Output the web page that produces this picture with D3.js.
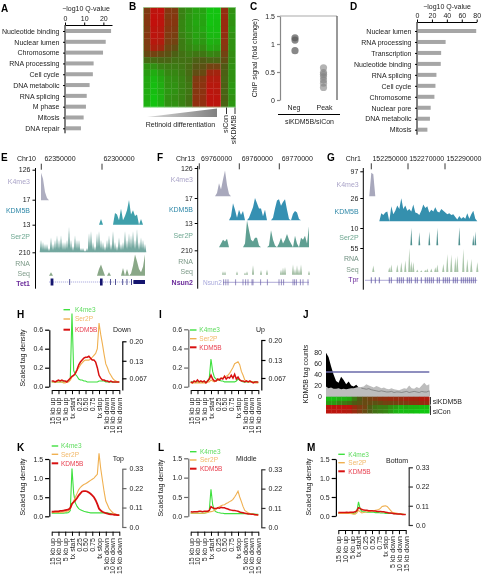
<!DOCTYPE html>
<html><head><meta charset="utf-8">
<script src="https://cdn.jsdelivr.net/npm/d3@7"></script>
<style>
html,body{margin:0;padding:0;background:#fff;overflow:hidden}
svg{display:block;font-family:"Liberation Sans",Arial,sans-serif;filter:blur(0.3px)}
text{font-size:7px;fill:#222}
.letter{font-size:10px;font-weight:bold;fill:#000}
</style></head><body>
<svg id="c" width="483" height="575"></svg>
<script>
// ---------- Panel A / D ----------
const catsA=["Nucleotide binding","Nuclear lumen","Chromosome","RNA processing","Cell cycle","DNA metabolic","RNA splicing","M phase","Mitosis","DNA repair"];
const valsA=[23.5,20.7,19.3,14.4,14,12.3,10.8,10.4,9.2,7.8];
const catsD=["Nuclear lumen","RNA processing","Transcription","Nucleotide binding","RNA splicing","Cell cycle","Chromosome","Nuclear pore","DNA metabolic","Mitosis"];
const valsD=[78,37,31,30.5,24.7,23.4,22,17,16,12.6];
// ---------- Panel B heat map (−1 green … +1 red) ----------
const heatB=[
[.4,.9,.95,.45,.4,-.35,-.5,-.65,-.65,-.95,-.95,.55,-.5],
[.45,.95,.9,.4,.45,-.35,-.55,-.65,-.7,-.95,-.95,.6,-.55],
[.45,.95,.9,.5,.45,-.4,-.55,-.7,-.65,-.95,-.9,.6,-.5],
[.4,.9,.85,.45,.4,-.4,-.55,-.65,-.7,-.9,-.9,.6,-.55],
[.45,.9,.85,.4,.35,-.35,-.5,-.65,-.6,-.85,-.85,.55,-.5],
[.4,.85,.8,.35,.3,-.3,-.45,-.6,-.55,-.8,-.75,.5,-.5],
[.35,.75,.65,.25,.15,-.3,-.4,-.5,-.45,-.7,-.65,.45,-.5],
[.2,.3,.2,.1,-.05,-.2,-.3,-.25,-.25,-.4,-.35,.3,-.45],
[-.15,-.15,-.1,-.1,-.2,-.2,-.2,-.05,0,-.1,-.1,.15,-.45],
[-.5,-.5,-.35,-.3,-.3,-.25,-.15,.05,.1,.3,.3,0,-.5],
[-.6,-.75,-.6,-.4,-.4,-.3,-.15,.15,.2,.65,.7,-.05,-.5],
[-.7,-.85,-.7,-.5,-.45,-.35,-.2,.4,.45,.8,.8,-.1,-.5],
[-.7,-.9,-.75,-.5,-.5,-.35,-.25,.45,.5,.85,.85,-.05,-.55],
[-.75,-.9,-.75,-.55,-.5,-.35,-.25,.45,.5,.9,.85,-.1,-.55],
[-.75,-.95,-.8,-.5,-.45,-.35,-.2,.5,.55,.9,.9,-.05,-.5],
[-.8,-.95,-.8,-.5,-.5,-.35,-.2,.55,.55,.9,.9,-.1,-.55]];
// ---------- Panel C ----------
const negC=[1.11,1.07,.88];
const peakC=[.575,.46,.415,.356,.3,.225,.49];
const labelsC=["Neg","Peak"];
// ---------- Panels E–G tracks (bins, in each track's own units) ----------
const eK4=[115,90,35,10,0];
const eKDM=[0,0,0,0,0,0,0,0,0,0,0,0,0,0,0,0,0,0,0,0,0,0,0,0,0,0,0,0,0,0,4,0,0,0,0,0,0,8,7,3,11,3,6,10,17,7,10,6,7,0,4,0,0];
const eSer=[6,5,4,4,2,7,4,6,8,6,8,5,5,6,12,6,3,8,6,6,2,2,1,2,9,10,5,3,9,10,6,5,3,6,8,4,10,5,3,7,4,5,10,6,9,8,10,6,11,5,7,6,4];
const eRNA=[0,0,0,0,0,30,0,0,0,0,0,0,0,0,0,0,0,0,0,0,0,0,0,0,0,0,0,0,0,60,100,50,0,0,30,0,0,0,0,0,0,70,0,60,0,20,90,190,130,60,30,80,190];
const eExons=[[4.8,1.4],[14.2,.3],[29.5,1.3],[34.5,.3],[37,.3],[40.7,.3],[42.8,.3],[45,.4],[46.2,5.8]];
const fK4=[0,0,0,0,0,0,0,0,0,15,58,30,75,115,50,10,0];
const fKDM=[0,0,0,0,0,0,0,0,0,0,0,0,0,0,0,0,3,13,8,2,8,4,7,0,0,2,6,10,17,13,9,9,3,8,0,0,0,2,9,15,16,11,14,16,8,1,0,5,7,6,1,0,0,0,0,0];
const fSer=[0,0,0,0,0,0,0,0,0,0,0,2,4,3,4.5,0,0,0,0,0,0,0,0,2,14,9,4,3,5,5,1,0,0,0,0,1,9,4,1,0,2,5,2,4,7,4,2,0,6,2,0,5,4,6,2,11];
const fRNA=[0,0,0,0,0,0,0,0,0,0,0,0,30,30,0,0,0,0,0,30,0,0,0,20,30,0,0,85,0,0,0,40,0,0,45,0,0,0,0,0,0,45,60,70,0,0,0,90,50,85,50,90,0,0,0,35];
const fExons=[12.3,13.4,14.5,18.3,22,23.3,24.5,26.5,27,30.8,34.2,40,41.2,42.3,47,47.8,48.7,50.7,52,54.5];
const gK4=[0,90,85,0];
const gKDM=[0,0,0,0,0,0,9,7,10,11,0,17,8,12,18,14,26,14,18,12,14,11,19,10,9,7,12,19,15,17,10,13,11,16,11,10,14,12,10,8,9,7,8,5,2,6,3,5,3,9,3,8,12,3,0];
const gSer=[0,0,0,0,0,0,0,0,0,0,0,0,0,0,0,0,0,0,0,0,0,10,0,0,0,7.5,0,0,0,0,8,0,0,0,10,0,0,0,0,0,0,0,0,0,0,10.5,0,0,0,0,0,0,6,8,0];
const gRNA=[0,0,15,0,0,0,0,0,0,0,11,17,0,0,17,0,23,0,27,0,55,25,23,0,6,0,4,0,5,8,0,8,0,11,17,0,0,19,0,42,0,40,0,34,38,0,0,53,0,30,0,30,0,0,23];
const gExons=[1,3,5,10,11,14,15,16,17,19,20,21,23,24,26,28,29,30,31,32,34,35,37,38,39,40,42,43,44,46,47,48,49,50,51,52,53];
const trackTicksE=["126","17","13","210"],trackTicksF=["126","17","13","210"],trackTicksG=["97","26","10","55"];
const coordE=["62350000","62300000"],coordF=["69760000","69760000","69770000"],coordG=["152250000","152270000","152290000"];
// ---------- Metagene profiles (41 samples between 15 kb up and 15 kb down) ----------
const xLabels=["15 kb up","10 kb up","5 kb up","tx start","0.25","0.50","0.75","tx stop","5 kb down","10 kb down","15 kb down"];
const hGreen=[.05,.05,.05,.05,.05,.05,.05,.05,.05,.06,.06,.08,.77,.17,.13,.11,.08,.07,.07,.06,.06,.05,.05,.05,.05,.05,.05,.05,.06,.06,.06,.06,.05,.05,.05,.05,.05,.05,.05,.05,.05];
const hOrange=[.05,.05,.05,.05,.05,.05,.05,.04,.04,.05,.05,.07,.10,.12,.14,.17,.20,.23,.25,.27,.28,.28,.28,.29,.31,.33,.35,.40,.67,.55,.45,.34,.24,.20,.15,.12,.09,.07,.06,.05,.05];
const hRed=[.06,.06,.05,.06,.07,.06,.07,.06,.06,.05,.07,.09,.11,.12,.14,.18,.23,.26,.28,.30,.31,.31,.32,.30,.28,.28,.26,.20,.12,.09,.07,.07,.06,.06,.05,.06,.05,.05,.05,.05,.05];
const iGreen=[.05,.05,.05,.05,.05,.05,.05,.05,.05,.05,.06,.09,.29,.16,.10,.08,.07,.07,.06,.06,.05,.05,.05,.05,.05,.05,.05,.06,.08,.07,.06,.05,.05,.05,.05,.05,.05,.05,.05,.05,.04];
const iOrange=[.04,.04,.04,.04,.04,.04,.04,.04,.04,.04,.05,.05,.07,.06,.05,.06,.07,.08,.09,.09,.10,.11,.12,.14,.17,.20,.24,.25,.26,.23,.16,.12,.07,.06,.05,.05,.05,.05,.04,.04,.04];
const iRed=[.05,.04,.06,.05,.07,.05,.06,.05,.06,.04,.06,.08,.12,.08,.06,.06,.08,.07,.09,.08,.11,.08,.10,.09,.12,.09,.13,.08,.10,.07,.06,.06,.05,.06,.05,.06,.05,.04,.05,.05,.05];
const kGreen=[.08,.08,.08,.08,.08,.08,.08,.08,.09,.09,.10,.15,1.25,.60,.35,.26,.20,.17,.15,.13,.12,.11,.10,.09,.09,.09,.09,.09,.09,.09,.09,.09,.09,.09,.08,.07,.05,.05,.04,.04,.03];
const kOrange=[.10,.10,.10,.10,.10,.10,.11,.11,.12,.13,.14,.20,.30,.40,.50,.60,.70,.76,.80,.83,.85,.88,.91,.94,.97,1.0,1.05,1.1,1.65,1.25,.95,.65,.40,.30,.20,.15,.10,.07,.05,.03,.02];
const kRed=[.12,.12,.13,.13,.13,.14,.14,.15,.16,.17,.18,.22,.33,.37,.42,.48,.55,.60,.65,.66,.66,.65,.62,.59,.55,.50,.42,.32,.20,.15,.12,.10,.08,.07,.06,.05,.05,.04,.04,.03,.03];
const lGreen=[.08,.08,.08,.08,.08,.08,.08,.08,.08,.09,.10,.15,.70,.30,.15,.12,.10,.09,.08,.08,.07,.07,.07,.07,.07,.07,.07,.07,.07,.07,.07,.07,.07,.07,.07,.07,.07,.06,.06,.05,.05];
const lOrange=[.08,.08,.08,.08,.08,.08,.08,.08,.08,.09,.10,.11,.12,.13,.15,.18,.22,.25,.27,.29,.30,.33,.35,.38,.40,.44,.50,.57,.65,.50,.38,.25,.15,.12,.09,.07,.06,.05,.04,.03,.03];
const lRed=[.12,.11,.12,.12,.12,.13,.13,.12,.13,.13,.13,.15,.25,.22,.20,.20,.22,.21,.23,.22,.22,.20,.19,.17,.16,.15,.15,.14,.13,.11,.10,.09,.08,.07,.06,.06,.05,.05,.04,.04,.03];
const mGreen=[.07,.07,.07,.07,.07,.07,.07,.07,.07,.07,.08,.12,.37,.18,.12,.11,.11,.10,.10,.10,.10,.10,.09,.09,.09,.08,.08,.08,.07,.07,.07,.07,.07,.06,.06,.06,.05,.05,.05,.04,.04];
const mOrange=[.07,.07,.07,.07,.07,.07,.07,.07,.06,.05,.05,.08,.15,.11,.08,.09,.10,.11,.12,.12,.13,.14,.15,.16,.17,.20,.25,.26,.27,.25,.20,.15,.10,.09,.08,.07,.06,.05,.05,.04,.04];
const mRed=[.09,.09,.09,.09,.09,.10,.09,.10,.10,.10,.11,.14,.22,.20,.17,.16,.15,.15,.14,.14,.14,.13,.13,.12,.12,.12,.11,.11,.10,.09,.08,.08,.07,.06,.06,.05,.05,.05,.04,.04,.04];
const seriesNames=["K4me3","Ser2P","KDM5B"];
// ---------- Panel J ----------
const jKD=[80,72,55,40,28,25,36,30,22,27,20,18,21,16,15,14,13,14,12,11,10,9,10,9,8,8,9,7,8,8,7,8,9,7,8,9,8,7,9,8,8,10];
const jCon=[18,15,16,14,14,15,13,14,13,14,15,15,16,17,17,18,22,20,18,16,19,17,15,16,14,13,15,13,12,11,13,15,14,20,15,14,17,15,20,25,20,22];
const jHeat=[
[-.9,-.9,-.8,-.8,-.7,-.3,0,.2,.3,.4,.5,.55,.6,.6,.6,.7,.7,.7,.8,.8],
[-.6,-.6,-.4,-.3,-.2,0,.1,.2,.2,.1,.2,.3,.3,.3,.4,.4,.5,.5,.6,.6],
[.9,.9,.9,.9,.9,.6,.4,.3,0,-.2,-.3,-.3,-.5,-.6,-.8,-.7,-.8,-.8,-.9,-.9],
[.9,.9,.9,.85,.8,.6,.4,.2,0,-.2,-.3,-.4,-.6,-.8,-.9,-.9,-.9,-.95,-1,-1]];

// ---------- drawing ----------
const svg=d3.select("#c");
const heatColor=d3.scaleLinear([-1,0,1],["#10c810","#4f5a14","#c80c0c"]);
const line=(x1,y1,x2,y2,col="#000",w=1)=>svg.append("line").attr("x1",x1).attr("y1",y1).attr("x2",x2).attr("y2",y2).attr("stroke",col).attr("stroke-width",w);
const label=(t,x,y,o={})=>{const s=svg.append("text").text(t).attr("x",x).attr("y",y).attr("dy","0.35em").attr("text-anchor",o.a||"start");
  if(o.col)s.style("fill",o.col); if(o.w)s.style("font-weight",o.w); if(o.size)s.style("font-size",o.size+"px");
  if(o.rot)s.attr("transform",`rotate(${o.rot} ${x} ${y})`); return s;};
const letter=(t,x,y)=>svg.append("text").attr("class","letter").text(t).attr("x",x).attr("y",y).attr("dy","0.35em");
const styleAxis=(g,col="#000",w=1)=>{g.selectAll("path,line").attr("stroke",col).attr("stroke-width",w);g.selectAll("text").style("font-size","7px").style("fill","#222").attr("font-family",null);g.attr("font-family",null).attr("font-size",null);};

function barPanel(cats,vals,dom,ticks,x0,x1,yAxis,y0,y1,titleX,titleY){
  const x=d3.scaleLinear(dom,[x0,x1]);
  const y=d3.scalePoint(cats,[y0,y1]);
  svg.append("g").selectAll("rect").data(vals).join("rect")
    .attr("x",x(0)+1).attr("width",d=>x(d)-x(0)).attr("y",(d,i)=>y(cats[i])-2).attr("height",4).attr("fill","#a6a6a6");
  svg.append("g").attr("transform",`translate(0,${yAxis})`).call(d3.axisTop(x).tickValues(ticks).tickSize(2.5).tickPadding(1.5).tickSizeOuter(0)).call(styleAxis);
  const ya=d3.scalePoint(cats,[y0,y1]);
  svg.append("g").attr("transform",`translate(${x0},0)`).call(d3.axisLeft(ya).tickSize(2).tickPadding(3.5).tickSizeOuter(0)).call(g=>{styleAxis(g);g.select(".domain").attr("d",`M0,${yAxis}V${y1+5}`);});
  label("\u2212log10 Q-value",titleX,titleY,{a:"middle"});
}
barPanel(catsA,valsA,[0,24.5],[0,10,20],65,112,25,31,128.3,86,8.5);
barPanel(catsD,valsD,[0,80],[0,20,40,60,80],417,476.7,22,31,129.7,447,6.5);
letter("A",1,8);letter("B",129,6);letter("C",250,6);letter("D",350,6);

// B
(function(){
  const cols=d3.range(11),rows=d3.range(heatB.length);
  const x=d3.scaleBand(cols,[143.3,220.5]),y=d3.scaleBand(rows,[7.3,107]);
  const x2=d3.scaleBand([11,12],[221,235.5]);
  heatB.forEach((r,ri)=>r.forEach((v,ci)=>{
    const ex=ci<11?x(ci):x2(ci),w=ci<11?x.bandwidth():x2.bandwidth();
    svg.append("rect").attr("x",ex).attr("y",y(ri)).attr("width",w+.3).attr("height",y.bandwidth()+.3).attr("fill",heatColor(v));
  }));
  svg.append("rect").attr("x",143.3).attr("y",7.3).attr("width",92.2).attr("height",99.7).attr("fill","none").attr("stroke","#9fe09f").attr("stroke-width",.6);
  svg.append("defs").append("linearGradient").attr("id","tri").call(g=>{g.append("stop").attr("offset","0").attr("stop-color","#d8d8d8");g.append("stop").attr("offset","1").attr("stop-color","#808080");});
  svg.append("path").attr("d",d3.line()([[147,117],[217,108.5],[217,117]])+"Z").attr("fill","url(#tri)");
  label("Retinoid differentiation",180.5,125,{a:"middle"});
  line(226.5,107.5,226.5,114,"#333");line(235,107.5,235,114,"#333");
  label("siCon",226,115,{a:"end",rot:-90});
  label("siKDM5B",233.5,115,{a:"end",rot:-90});
})();

// C
(function(){
  const y=d3.scaleLinear([0,1.5],[100,16]);
  const x=d3.scalePoint(labelsC,[295,323.5]);
  line(280,16,337,16,"#aaa",1.2);line(337,16,337,100,"#555",1.2);
  svg.append("g").attr("transform","translate(280,0)").call(d3.axisLeft(y).tickValues([0,.5,1,1.5]).tickFormat(d3.format("~g")).tickSize(3).tickPadding(2).tickSizeOuter(0)).call(g=>styleAxis(g,"#888",1.2));
  svg.append("g").selectAll("circle").data(negC).join("circle").attr("cx",x("Neg")).attr("cy",d=>y(d)).attr("r",3.6).attr("fill","#555").attr("fill-opacity",.7);
  svg.append("g").selectAll("circle").data(peakC).join("circle").attr("cx",x("Peak")).attr("cy",d=>y(d)).attr("r",3.6).attr("fill","#808080").attr("fill-opacity",.6);
  labelsC.forEach(l=>label(l,x(l)+(l=="Neg"?-1:1),107.5,{a:"middle"}));
  line(278,114.5,340,114.5,"#000",1);
  label("siKDM5B/siCon",309.5,122,{a:"middle"});
  label("ChIP signal (fold change)",255,58,{a:"middle",rot:-90});
})();

// E, F, G
function tracks(o){
  const x=d3.scaleLinear([0,o.n],[o.x0,o.x1]);
  o.tr.forEach(t=>{
    const y=d3.scaleLinear([0,t.max],[t.base,t.top]);
    if(t.spike){
      svg.append("g").selectAll("path").data(t.v.map((v,i)=>[i,v]).filter(d=>d[1]>0)).join("path").attr("fill",t.col)
        .attr("d",d=>d3.line()([[x(d[0])-t.spike/2,t.base],[x(d[0]),y(d[1])],[x(d[0])+t.spike/2,t.base]])+"Z");
    } else {
      svg.append("path").datum(t.v).attr("fill",t.col)
        .attr("d",d3.area().x((d,i)=>x(i)).y0(t.base).y1(d=>y(d))(t.v));
    }
  });
  const ya=svg.append("g").attr("transform",`translate(${o.axisX},0)`)
    .call(d3.axisLeft(d3.scaleIdentity()).tickValues(o.tr.map(t=>t.tick)).tickFormat((d,i)=>o.tickLabels[i]).tickSize(3).tickPadding(2).tickSizeOuter(0));
  styleAxis(ya);ya.select(".domain").attr("d",`M0,${o.axisTop}V${o.axisBot}`);
  o.labs.forEach(l=>label(l.t,o.labX,l.y,{a:"end",col:l.c,w:l.w,size:l.s}));
  label(o.chr,o.chrX,o.head,{a:"end"});
  o.coords.forEach((c,i)=>{label(c,o.coordX[i],o.head,{a:"middle"});line(o.tickX[i],o.head+5,o.tickX[i],o.head+11,"#222",.9);});
  o.gene(x);
}
tracks({n:52,x0:41,x1:145,axisX:35.5,axisTop:168,axisBot:288.7,labX:30,head:158.7,chr:"Chr10",chrX:36,coords:coordE,coordX:[60,119],tickX:[41.3,102],tickLabels:trackTicksE,
 tr:[{v:eK4,max:126,base:200.3,top:170,col:"#aeaec0",tick:169.7},{v:eKDM,max:17,base:224.7,top:200,col:"#3fa0ab",tick:199.7},{v:eSer,max:13,base:252.3,top:225,col:"#74a8a0",tick:224.7,spike:2.6},{v:eRNA,max:210,base:275.7,top:252.3,col:"#8aa888",tick:252.3}],
 labs:[{t:"K4me3",y:182,c:"#aaa4c8"},{t:"KDM5B",y:211,c:"#2f88a8"},{t:"Ser2P",y:237,c:"#6fa892"},{t:"RNA",y:263.7,c:"#7d9a88"},{t:"Seq",y:274,c:"#7d9a88"},{t:"Tet1",y:284,c:"#6a2a9a",w:"bold"}],
 gene:x=>{line(x(4),282,x(52),282,"#9a9ad8",.8).attr("stroke-dasharray","1.2 .8");
   svg.append("g").selectAll("rect").data(eExons).join("rect").attr("x",d=>x(d[0])).attr("width",d=>Math.max(x(d[1])-x(0),.7)).attr("y",d=>d[1]>5?280:d[1]>1?278.5:279).attr("height",d=>d[1]>5?4:d[1]>1?7:6).attr("fill","#14146e");}});
tracks({n:55,x0:199,x1:309,axisX:197.7,axisTop:166,axisBot:288.7,labX:193,head:158.3,chr:"Chr13",chrX:195,coords:coordF,coordX:[216.7,257.3,297.3],tickX:[199.3,239.3,279.3],tickLabels:trackTicksF,
 tr:[{v:fK4,max:126,base:196.3,top:168,col:"#a8a8bc",tick:168},{v:fKDM,max:17,base:220.3,top:198,col:"#3590b2",tick:198},{v:fSer,max:13,base:247.3,top:222.5,col:"#5f9f92",tick:223},{v:fRNA,max:210,base:274.7,top:250.5,col:"#8fb090",tick:250.3,spike:1.8}],
 labs:[{t:"K4me3",y:180,c:"#aaa4c8"},{t:"KDM5B",y:209.7,c:"#2f88a8"},{t:"Ser2P",y:235.7,c:"#6fa892"},{t:"RNA",y:262,c:"#7d9a88"},{t:"Seq",y:272,c:"#7d9a88"},{t:"Nsun2",y:282.3,c:"#6a2a9a",w:"bold"}],
 gene:x=>{label("Nsun2",203,282.3,{col:"#a8a8dc",size:6.5});line(x(12),282.3,x(55),282.3,"#9a94cc",.8);
   svg.append("g").selectAll("line").data(fExons).join("line").attr("x1",d=>x(d)).attr("x2",d=>x(d)).attr("y1",279.3).attr("y2",285.3).attr("stroke","#6a60a8").attr("stroke-width",.7);}});
tracks({n:54,x0:369.3,x1:477.3,axisX:363.3,axisTop:168,axisBot:289.7,labX:358.7,head:158.3,chr:"Chr1",chrX:361,coords:coordG,coordX:[390,426.7,464],tickX:[371.3,408,445],tickLabels:trackTicksG,
 tr:[{v:gK4,max:97,base:196.3,top:171,col:"#a8a8bc",tick:171.3},{v:gKDM,max:26,base:221.3,top:198.3,col:"#3590ae",tick:198},{v:gSer,max:10,base:245.3,top:228,col:"#50908f",tick:228,spike:1.8},{v:gRNA,max:55,base:272,top:248,col:"#a8c4a8",tick:248,spike:2.2}],
 labs:[{t:"K4me3",y:184.7,c:"#aaa4c8"},{t:"KDM5B",y:211.3,c:"#2f88a8"},{t:"Ser2P",y:238,c:"#6fa892"},{t:"RNA",y:259,c:"#6f8f80"},{t:"Seq",y:269.7,c:"#7d9a88"},{t:"Tpr",y:279.7,c:"#6a2a9a"}],
 gene:x=>{line(365,280.3,x(54),280.3,"#9a94cc",.8);
   svg.append("g").selectAll("line").data(gExons).join("line").attr("x1",d=>x(d)).attr("x2",d=>x(d)).attr("y1",277.3).attr("y2",283.3).attr("stroke","#5a50a0").attr("stroke-width",.8);}});
letter("E",1,157);letter("F",157,157);letter("G",327,157);

// H, I, K, L, M
function profile(o){
  const x=d3.scaleLinear([0,10],[o.x0,o.x1]);
  const yL=d3.scaleLinear([0,o.maxL],[o.y0,o.yTop]);
  const ln=d3.line().x((d,i)=>x(i/4)).y(d=>yL(d));
  [["#3fe03f",1.1],["#f0b050",1.1],["#d81010",o.redW||1.5]].forEach((s,i)=>{
    svg.append("path").attr("d",ln(o.data[i])).attr("fill","none").attr("stroke",s[0]).attr("stroke-width",s[1]);
    line(o.legX,o.legY[i],o.legX+6.5,o.legY[i],s[0],i==2?2:1.4);
    label(seriesNames[i],o.legX+o.legGap,o.legY[i],{col:["#5fdc5f","#f2b868","#e84050"][i],size:6.5});
  });
  const ga=svg.append("g").attr("transform",`translate(${o.x0-2.4},0)`).call(d3.axisLeft(yL).tickValues(o.ticksL).tickFormat(d3.format(".1f")).tickSize(4.2).tickPadding(2).tickSizeOuter(0));
  styleAxis(ga,o.lCol||"#000",1.2);
  const yR=d3.scaleLinear(o.rDom,o.rRange);
  const gr=svg.append("g").attr("transform",`translate(${o.x1+3},0)`).call(d3.axisRight(yR).tickValues(o.ticksR).tickFormat((d,i)=>o.ticksRL[i]).tickSize(4.2).tickPadding(3).tickSizeOuter(0));
  styleAxis(gr,o.rCol||"#000",1.2);
  const gx=svg.append("g").attr("transform",`translate(0,${o.axisY})`).call(d3.axisBottom(x).tickValues(d3.range(11)).tickFormat(i=>xLabels[i]).tickSize(4.2).tickSizeOuter(0));
  styleAxis(gx,"#000",1);
  gx.selectAll("text").attr("transform","rotate(-90)").attr("text-anchor","end").attr("x",-o.labOff).attr("y",0).attr("dy","0.35em");
  label(o.title,o.titleX,o.titleY,{});
  if(o.yLabX!=null) label("Scaled tag density",o.yLabX,o.yLabY,{a:"middle",rot:-90});
}
const tL6=[0,.2,.4,.6],tL15=[0,.5,1,1.5];
const R1=[.2,.13,.067],R1L=["0.20","0.13","0.067"];
const R2=[.33,.22,.11,0],R2L=["0.33","0.22","0.11","0.0"];
profile({data:[hGreen,hOrange,hRed],x0:51.7,x1:119.3,y0:386.7,yTop:329.7,maxL:.6,ticksL:tL6,rDom:[.025,.2],rRange:[390,341.3],ticksR:R1,ticksRL:R1L,axisY:390,labOff:7.7,legX:63.5,legY:[309.7,319,329.7],legGap:11.5,title:"Down",titleX:113,titleY:330,yLabX:22.7,yLabY:358});
profile({data:[iGreen,iOrange,iRed],x0:190.7,x1:258.3,y0:386.7,yTop:329.3,maxL:.6,ticksL:tL6,rDom:[.025,.2],rRange:[390,340],ticksR:R1,ticksRL:R1L,axisY:390,labOff:7.7,legX:190,legY:[330,338.7,347.3],legGap:9.3,title:"Up",titleX:256,titleY:330,lCol:"#666"});
profile({data:[kGreen,kOrange,kRed],x0:51.7,x1:119.3,y0:516.3,yTop:459,maxL:1.5,ticksL:tL15,rDom:[0,.33],rRange:[527,468.7],ticksR:R2,ticksRL:R2L,axisY:531.7,labOff:6.5,legX:51.7,legY:[446,454.3,463.3],legGap:9.3,title:"Top",titleX:112.7,titleY:459,rCol:"#666",redW:1.8,yLabX:22.7,yLabY:487});
profile({data:[lGreen,lOrange,lRed],x0:190.7,x1:258.3,y0:516.3,yTop:458.3,maxL:1.5,ticksL:tL15,rDom:[0,.33],rRange:[527.3,469.3],ticksR:R2,ticksRL:R2L,axisY:531.7,labOff:6.5,legX:190,legY:[451.7,460,468.7],legGap:10,title:"Middle",titleX:236,titleY:459,lCol:"#666",rCol:"#333",yLabX:161,yLabY:488});
profile({data:[mGreen,mOrange,mRed],x0:338.3,x1:405.7,y0:516,yTop:459,maxL:1.5,ticksL:tL15,rDom:[0,.33],rRange:[525,467.3],ticksR:R2,ticksRL:R2L,axisY:530,labOff:6,legX:338.3,legY:[454.3,462.7,471.3],legGap:10,title:"Bottom",titleX:386,titleY:460.7,rCol:"#333",yLabX:309,yLabY:487});
letter("H",17,314);letter("I",159,314);letter("J",303,314);letter("K",17,447);letter("L",158,447.7);letter("M",307,447.7);

// J
(function(){
  const x=d3.scaleLinear([0,jKD.length-1],[326,429.3]);
  const y=d3.scaleLinear([0,80],[396.3,352.7]);
  const ar=d3.area().x((d,i)=>x(i)).y0(y(0)).y1(d=>y(d));
  svg.append("path").attr("d",ar(jKD)).attr("fill","#000");
  svg.append("path").attr("d",ar(jCon)).attr("fill","#bdbdbd");
  svg.append("path").attr("d",d3.line().x((d,i)=>x(i)).y(d=>y(d)).defined((d,i)=>i>=14)(jKD)).attr("fill","none").attr("stroke","#666").attr("stroke-width",.6);
  const ga=svg.append("g").attr("transform","translate(323,0)").call(d3.axisLeft(y).tickValues([0,20,40,60,80]).tickSize(0).tickPadding(1).tickSizeOuter(0));
  styleAxis(ga);ga.select(".domain").remove();
  line(326,372,429.3,372,"#6a6aaa",1.6);
  const cx=d3.scaleBand(d3.range(20),[326,429.3]),ry=d3.scaleBand(d3.range(4),[396.7,413.3]);
  jHeat.forEach((r,ri)=>r.forEach((v,ci)=>svg.append("rect").attr("x",cx(ci)).attr("y",ry(ri)).attr("width",cx.bandwidth()+.3).attr("height",ry.bandwidth()+.2).attr("fill",heatColor(v))));
  line(430.5,397,430.5,404.6,"#222",.9);line(430.5,405.6,430.5,415,"#222",.9);
  label("siKDM5B",432.7,401.7);label("siCon",432.7,411.3);
  label("KDM5B tag counts",306,374,{a:"middle",rot:-90});
})();
</script></body></html>
